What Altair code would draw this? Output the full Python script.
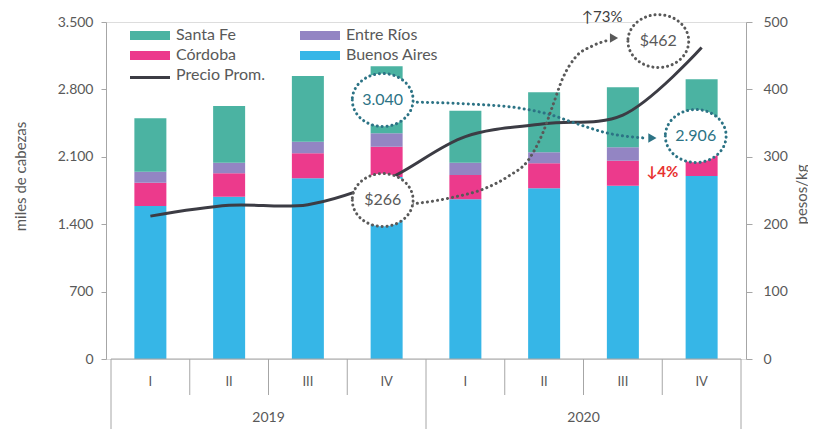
import altair as alt
import pandas as pd

# ---------------- data ----------------
quarters = ["I", "II", "III", "IV", "I", "II", "III", "IV"]
year_labels = ["2019", "2020"]
regions = ["Buenos Aires", "Córdoba", "Entre Ríos", "Santa Fe"]
buenos_aires = [1589, 1686, 1877, 1890, 1658, 1773, 1800, 1900]
cordoba = [242, 243, 259, 315, 253, 259, 260, 230]
entre_rios = [114, 110, 121, 139, 128, 115, 138, 115]
santa_fe = [555, 588, 682, 696, 540, 623, 624, 661]
precio = [212, 228, 229, 266, 330, 349, 362, 462]

legend_labels = ["Santa Fe", "Entre Ríos", "Córdoba", "Buenos Aires", "Precio Prom."]
region_colors = {"Santa Fe": "#4BB3A2", "Entre Ríos": "#9385C3",
                 "Córdoba": "#EC3A8C", "Buenos Aires": "#36B6E7"}
line_color = "#3C3C44"
teal_dark = "#2C7385"
gray_dark = "#595959"
red = "#E8312F"
axis_gray = "#A6A6A6"
label_gray = "#595959"
FONT = "Lato"

# annotation paths (category index, miles de cabezas)
teal_curve_x = [3.325, 4.05, 4.675, 5.05, 5.425, 5.8, 6.275]
teal_curve_y = [2669, 2648, 2607, 2544, 2441, 2347, 2295]
gray_curve_x = [3.325, 3.8, 4.2625, 4.55, 4.8, 4.9875, 5.1125, 5.2375, 5.4, 5.6125, 5.825]
gray_curve_y = [1610, 1672, 1776, 1900, 2067, 2357, 2638, 2918, 3136, 3251, 3313]

# ---------------- frames ----------------
rows = []
series = {"Buenos Aires": buenos_aires, "Córdoba": cordoba,
          "Entre Ríos": entre_rios, "Santa Fe": santa_fe}
for i in range(len(quarters)):
    base = 0
    for r in regions:
        v = series[r][i]
        rows.append({"i": i, "region": r, "value": v, "y0": base, "y1": base + v})
        base += v
bars_df = pd.DataFrame(rows)
price_df = pd.DataFrame({"i": list(range(len(precio))), "precio": precio})

xs = alt.Scale(domain=[-0.5, 7.5], nice=False, zero=False)


def X(f):
    return alt.X(f, type="quantitative", scale=xs, axis=None)


def YL(f, axis=None):
    return alt.Y(f, type="quantitative",
                 scale=alt.Scale(domain=[0, 3500], nice=False), axis=axis)


left_axis = alt.Axis(
    values=[0, 700, 1400, 2100, 2800, 3500],
    labelExpr="replace(format(datum.value, ','), ',', '.')",
    title="miles de cabezas", grid=False, domainColor=axis_gray, tickColor=axis_gray,
    tickSize=5, labelPadding=8, labelColor=label_gray, labelFontSize=14, labelFont=FONT,
    titleFont=FONT, titleFontSize=15, titleFontWeight="normal", titleColor=label_gray,
    titleAngle=270, titleX=-86, titleY=154, titleAlign="center", titleBaseline="middle")

right_axis = alt.Axis(
    orient="right", values=[0, 100, 200, 300, 400, 500], title="pesos/kg", grid=False,
    domainColor=axis_gray, tickColor=axis_gray, tickSize=6, labelPadding=11,
    labelColor=label_gray, labelFontSize=14, labelFont=FONT,
    titleFont=FONT, titleFontSize=15, titleFontWeight="normal", titleColor=label_gray,
    titleAngle=270, titleX=55, titleY=172, titleAlign="center", titleBaseline="middle")

bars = alt.Chart(bars_df).mark_bar(size=32).encode(
    x=X("i"),
    y=YL("y0", left_axis),
    y2="y1:Q",
    color=alt.Color("region:N", legend=None,
                    scale=alt.Scale(domain=list(region_colors.keys()),
                                    range=list(region_colors.values()))),
)

price_line = alt.Chart(price_df).mark_line(
    interpolate="catmull-rom", color=line_color, strokeWidth=3).encode(
    x=X("i"),
    y=alt.Y("precio:Q", scale=alt.Scale(domain=[0, 500], nice=False), axis=right_axis),
)

# ---- custom category axis ----
baseline = alt.Chart(pd.DataFrame({"a": [-0.5], "b": [7.5]})).mark_rule(
    color=axis_gray, strokeWidth=1).encode(x=X("a"), x2="b:Q", y=alt.value(337))
q_sep = alt.Chart(pd.DataFrame({"s": [k + 0.5 for k in range(7) if k != 3]})).mark_rule(
    color=axis_gray, strokeWidth=1).encode(x=X("s"), y=alt.value(337), y2=alt.value(373))
y_sep = alt.Chart(pd.DataFrame({"s": [-0.5, 3.5, 7.5]})).mark_rule(
    color=axis_gray, strokeWidth=1).encode(x=X("s"), y=alt.value(337), y2=alt.value(412))
q_lab = alt.Chart(pd.DataFrame({"i": list(range(8)), "q": quarters})).mark_text(
    font=FONT, fontSize=13, color=label_gray, baseline="middle").encode(
    x=X("i"), y=alt.value(360), text="q:N")
y_lab = alt.Chart(pd.DataFrame({"i": [1.5, 5.5], "yr": year_labels})).mark_text(
    font=FONT, fontSize=14, color=label_gray, baseline="middle").encode(
    x=X("i"), y=alt.value(396), text="yr:N")

# ---- annotations ----
teal_curve = alt.Chart(pd.DataFrame({"x": teal_curve_x, "y": teal_curve_y})).mark_line(
    interpolate="monotone", color=teal_dark, strokeWidth=3, strokeDash=[0.1, 5],
    strokeCap="round").encode(x=X("x"), y=YL("y"))
gray_curve = alt.Chart(pd.DataFrame({"x": gray_curve_x, "y": gray_curve_y})).mark_line(
    interpolate="monotone", color=gray_dark, strokeWidth=3, strokeDash=[0.1, 5],
    strokeCap="round").encode(x=X("x"), y=YL("y"))


def arrow(x, y, color):
    return alt.Chart(pd.DataFrame({"x": [x], "y": [y]})).mark_point(
        shape="triangle-right", filled=True, size=90, color=color, opacity=1).encode(
        x=X("x"), y=YL("y"))


ELLIPSE = "M-1,0 A1,0.87 0 1,0 1,0 A1,0.87 0 1,0 -1,0 Z"


def ring(x, y, color, label, bold=False):
    d = pd.DataFrame({"x": [x], "y": [y], "t": [label]})
    c = alt.Chart(d).mark_point(
        shape=ELLIPSE, size=3700, filled=True, fill="white", fillOpacity=1,
        stroke=color, strokeWidth=3, strokeDash=[0.1, 4.8], strokeCap="round",
        opacity=1).encode(x=X("x"), y=YL("y"))
    t = alt.Chart(d).mark_text(
        font=FONT, fontSize=16, color=color, baseline="middle",
        fontWeight="bold" if bold else "normal").encode(x=X("x"), y=YL("y"), text="t:N")
    return [c, t]


def note(x, y, color, label, bold=False, size=15):
    d = pd.DataFrame({"x": [x], "y": [y], "t": [label]})
    return alt.Chart(d).mark_text(
        font=FONT, fontSize=size, color=color, baseline="middle",
        fontWeight="bold" if bold else "normal").encode(x=X("x"), y=YL("y"), text="t:N")


annots = [teal_curve, gray_curve,
          arrow(6.375, 2295, teal_dark), arrow(5.8875, 3334, gray_dark)]
annots += ring(2.95, 2690, teal_dark, "3.040")
annots += ring(2.95, 1651, gray_dark, "$266")
annots += ring(6.45, 3302, gray_dark, "$462")
annots += ring(6.925, 2316, teal_dark, "2.906")
annots += [note(5.7375, 3552, "#404040", "↑73%"),
           note(6.5, 1947, red, "↓4%", bold=True)]

# ---- legend (manual) ----
leg_layers = []
legend_colors = [region_colors["Santa Fe"], region_colors["Entre Ríos"],
                 region_colors["Córdoba"], region_colors["Buenos Aires"], line_color]
for k, (lab, col) in enumerate(zip(legend_labels, legend_colors)):
    cx = 24 + (k % 2) * 170
    cy = 13 + (k // 2) * 20
    one = pd.DataFrame({"t": [lab]})
    if lab == "Precio Prom.":
        sw = alt.Chart(one).mark_rect(color=col).encode(
            x=alt.value(cx), x2=alt.value(cx + 40), y=alt.value(cy + 1), y2=alt.value(cy + 4))
    else:
        sw = alt.Chart(one).mark_rect(color=col).encode(
            x=alt.value(cx), x2=alt.value(cx + 40), y=alt.value(cy - 4), y2=alt.value(cy + 5))
    tx = alt.Chart(one).mark_text(
        font=FONT, fontSize=16, color=label_gray, align="left", baseline="middle").encode(
        x=alt.value(cx + 46), y=alt.value(cy), text="t:N")
    leg_layers += [sw, tx]

chart = alt.layer(
    bars, price_line, baseline, q_sep, y_sep, q_lab, y_lab, *annots, *leg_layers
).resolve_scale(y="independent").properties(
    width=640, height=337,
    autosize=alt.AutoSizeParams(type="none"),
    padding={"left": 98, "top": 14, "right": 62, "bottom": 70},
).configure_view(stroke=None).configure(background="white")

chart.save("out.html", embed_options={"renderer": "svg", "actions": False})
